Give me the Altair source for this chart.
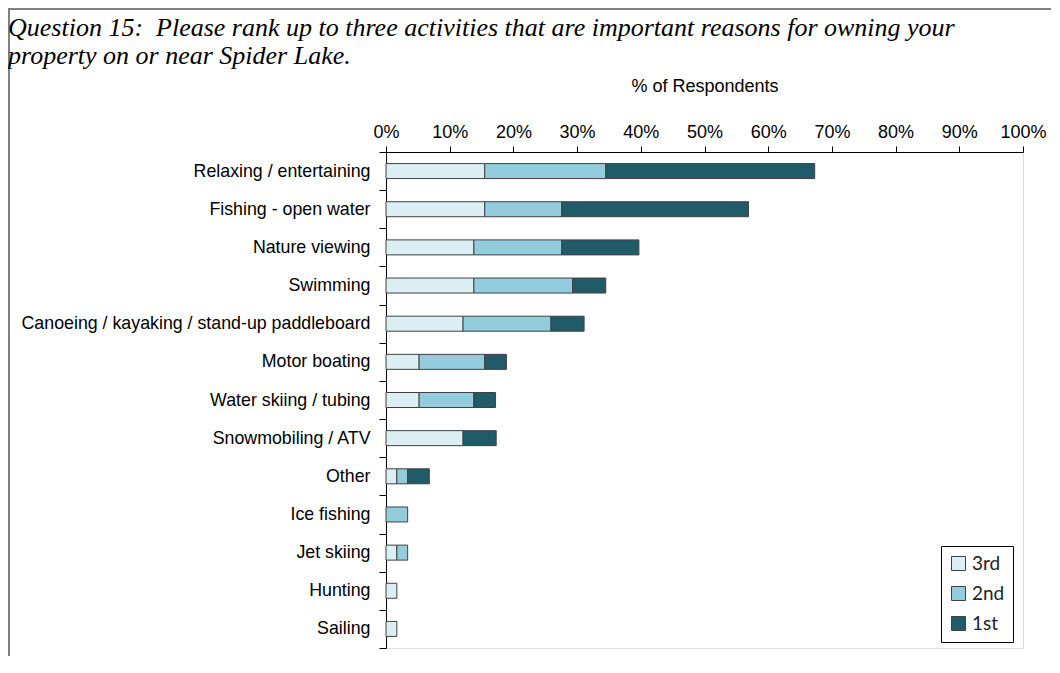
import altair as alt
import pandas as pd

categories = [
    "Relaxing / entertaining",
    "Fishing - open water",
    "Nature viewing",
    "Swimming",
    "Canoeing / kayaking / stand-up paddleboard",
    "Motor boating",
    "Water skiing / tubing",
    "Snowmobiling / ATV",
    "Other",
    "Ice fishing",
    "Jet skiing",
    "Hunting",
    "Sailing",
]
ranks = ["3rd", "2nd", "1st"]
third = [15.5, 15.5, 13.8, 13.8, 12.1, 5.2, 5.2, 12.1, 1.7, 0.0, 1.7, 1.7, 1.7]
second = [19.0, 12.1, 13.8, 15.5, 13.8, 10.3, 8.6, 0.0, 1.7, 3.4, 1.7, 0.0, 0.0]
first = [32.8, 29.3, 12.1, 5.2, 5.2, 3.4, 3.4, 5.2, 3.4, 0.0, 0.0, 0.0, 0.0]
colors = ["#DBEEF4", "#93CDDD", "#215A69"]
tick_values = [0, 10, 20, 30, 40, 50, 60, 70, 80, 90, 100]

title_lines = [
    "Question 15:\u00a0 Please rank up to three activities that are important reasons for owning your",
    "property on or near Spider Lake.",
]

rows = []
for i, c in enumerate(categories):
    for k, vals in enumerate([third, second, first]):
        if vals[i] > 0:
            rows.append({"activity": c, "rank": ranks[k], "order": k, "pct": vals[i]})
df = pd.DataFrame(rows)

bars = alt.Chart(df).mark_bar(stroke="#404040", strokeWidth=1, size=15).encode(
    y=alt.Y(
        "activity:N",
        sort=categories,
        scale=alt.Scale(paddingInner=0, paddingOuter=0),
        axis=alt.Axis(
            title=None,
            labelFont="Liberation Sans",
            labelFontSize=17.8,
            labelColor="black",
            labelPadding=9,
            tickBand="extent",
            tickSize=7,
            tickColor="black",
            domainColor="black",
            labelLimit=500,
        ),
    ),
    x=alt.X(
        "pct:Q",
        stack="zero",
        scale=alt.Scale(domain=[0, 100]),
        axis=alt.Axis(
            orient="top",
            values=tick_values,
            labelExpr="datum.value + '%'",
            labelOverlap=False,
            labelFlush=False,
            title="% of Respondents",
            titleFont="Liberation Sans",
            titleFontSize=18,
            titleFontWeight="normal",
            titleColor="black",
            titlePadding=28,
            labelFont="Liberation Sans",
            labelFontSize=18,
            labelColor="black",
            labelPadding=5,
            tickSize=6,
            tickColor="black",
            domainColor="black",
            grid=False,
        ),
    ),
    color=alt.Color(
        "rank:N",
        scale=alt.Scale(domain=ranks, range=colors),
        legend=alt.Legend(
            title=None,
            orient="none",
            legendX=555,
            legendY=394,
            direction="vertical",
            strokeColor="black",
            fillColor="white",
            padding=8,
            symbolType="square",
            symbolSize=196,
            symbolStrokeColor="#404040",
            symbolStrokeWidth=1,
            symbolOpacity=1,
            labelFont="Lato",
            labelFontSize=19,
            labelColor="#222222",
            rowPadding=10,
        ),
    ),
    order=alt.Order("order:Q"),
)

frame_df = pd.DataFrame({"a": [0]})
left_line = alt.Chart(frame_df).mark_rule(color="#808080", strokeWidth=2).encode(
    x=alt.value(-377), y=alt.value(-144), y2=alt.value(520)
)
top_line = alt.Chart(frame_df).mark_rule(color="#808080", strokeWidth=2).encode(
    x=alt.value(-378), x2=alt.value(665), y=alt.value(-143)
)

chart = (
    alt.layer(left_line, top_line, bars)
    .properties(
        width=637,
        height=496,
        autosize=alt.AutoSizeParams(type="none"),
        padding={"left": 378, "top": 144, "right": 28, "bottom": 8},
        title=alt.TitleParams(
            text=title_lines,
            anchor="start",
            frame="group",
            dx=-378,
            dy=87,
            baseline="alphabetic",
            font="Liberation Serif",
            fontStyle="italic",
            fontWeight="normal",
            fontSize=26,
            lineHeight=28,
            color="black",
        ),
    )
    .configure_view(stroke="black", strokeWidth=1)
    .configure(background="white")
)

chart.save("out.html", embed_options={"renderer": "svg", "actions": False})
